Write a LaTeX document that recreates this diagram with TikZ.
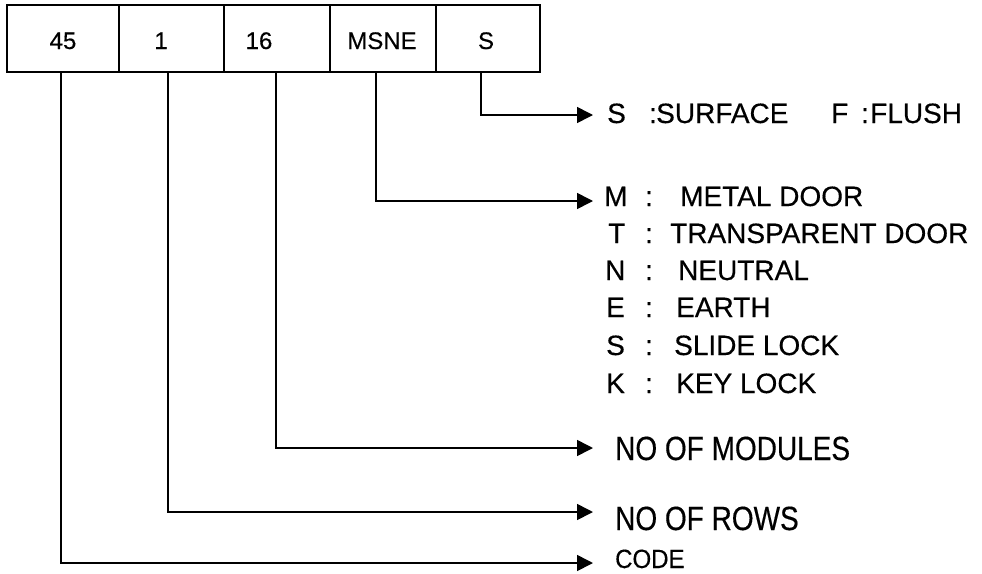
\documentclass[tikz,border=0pt]{standalone}
\usepackage{fontspec}
\setmainfont{Liberation Sans}
\newfontfamily\heavyfont[FakeBold=0.4]{Liberation Sans}
\usepackage{graphicx}
\usetikzlibrary{arrows.meta}
\begin{document}
\begin{tikzpicture}[x=1pt,y=-1pt,
  cell/.style={draw,line width=1.8pt,minimum height=67pt,inner sep=0pt,outer sep=0pt},
  boxlbl/.style={anchor=base,inner sep=0pt,font=\heavyfont\fontsize{24}{27}\selectfont},
  txt/.style={anchor=base west,inner sep=0pt,font=\heavyfont\fontsize{28}{32}\selectfont},
  small/.style={anchor=base west,inner sep=0pt,font=\heavyfont\fontsize{24}{28}\selectfont},
  conn/.style={line width=1.6pt,-{Triangle[length=16pt,width=16pt]}}]
\useasboundingbox (0,0) rectangle (982,573);
% boxes
\node[cell,minimum width=112pt] (b1) at (63,38.5) {};
\node[cell,minimum width=105pt] (b2) at (171.5,38.5) {};
\node[cell,minimum width=106pt] (b3) at (277,38.5) {};
\node[cell,minimum width=106pt] (b4) at (383,38.5) {};
\node[cell,minimum width=104pt] (b5) at (488,38.5) {};
% box labels
\node[boxlbl] (l1) at (63,49) {45};
\node[boxlbl] (l2) at (161,49) {1};
\node[boxlbl] (l3) at (259,49) {16};
\node[boxlbl] (l4) at (382,49) {MSNE};
\node[boxlbl] (l5) at (486,49) {S};
% arrow tips
\coordinate (t5) at (593,115);
\coordinate (t4) at (593,201);
\coordinate (t3) at (593,448);
\coordinate (t2) at (593,512);
\coordinate (t1) at (593,563);
% connectors
\draw[conn] ([xshift=-7pt]b5.south) |- (t5);
\draw[conn] ([xshift=-7pt]b4.south) |- (t4);
\draw[conn] ([xshift=-1pt]b3.south) |- (t3);
\draw[conn] ([xshift=-3.5pt]b2.south) |- (t2);
\draw[conn] ([xshift=-2pt]b1.south) |- (t1);
% S / F
\node[txt] (s1) at (607,123) {S};
\node[txt] (s2) at (649,123) {:};
\node[txt] (s3) at (656,123) {SURFACE};
\node[txt] (f1) at (831,123) {F};
\node[txt] (f2) at (861,123) {:};
\node[txt] (f3) at (870,123) {FLUSH};
% list
\node[txt] (m1) at (604,206) {M};
\node[txt] (m2) at (645,206) {:};
\node[txt] (m3) at (680,206) {METAL DOOR};
\node[txt] (tt1) at (608,243) {T};
\node[txt] (tt2) at (645,243) {:};
\node[txt] (tt3) at (670,243) {TRANSPARENT DOOR};
\node[txt] (n1) at (605,280) {N};
\node[txt] (n2) at (645,280) {:};
\node[txt] (n3) at (678,280) {NEUTRAL};
\node[txt] (e1) at (606,317) {E};
\node[txt] (e2) at (645,317) {:};
\node[txt] (e3) at (676,317) {EARTH};
\node[txt] (sl1) at (606,355) {S};
\node[txt] (sl2) at (645,355) {:};
\node[txt] (sl3) at (674,355) {SLIDE LOCK};
\node[txt] (k1) at (606,393) {K};
\node[txt] (k2) at (645,393) {:};
\node[txt] (k3) at (676,393) {KEY LOCK};
% bottom labels
\node[txt] (mod) at (615,460) {\scalebox{1}[1.2]{NO OF MODULES}};
\node[txt] (rows) at (615,530) {\scalebox{1}[1.2]{NO OF ROWS}};
\node[small] (code) at (615,568) {\scalebox{1}[1.1]{CODE}};
\end{tikzpicture}
\end{document}
